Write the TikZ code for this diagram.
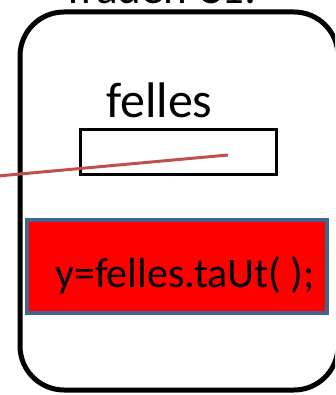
\documentclass[tikz,border=0pt]{standalone}
\usepackage{fontspec}
\setmainfont{Carlito}
\definecolor{linered}{HTML}{C0504D}
\definecolor{boxblue}{HTML}{41658F}
\begin{document}
\begin{tikzpicture}[x=1pt,y=-1pt,
  txt/.style={inner sep=0pt,anchor=base west,text=black},
  frame/.style={draw=black,line width=5pt,rounded corners=44pt},
  smallbox/.style={draw=black,line width=3pt},
  redbox/.style={draw=boxblue,fill=red,line width=3.5pt},
  link/.style={draw=linered,line width=3pt}]
\useasboundingbox (0,0) rectangle (335,395);
\begin{scope}
\clip (0,0) rectangle (335,395);
\node[txt,font=\fontsize{45}{50}\selectfont] (title) at (62,4) {Tråden C1:};
\draw[frame] (20,12) rectangle (338,390);
\node[txt,font=\fontsize{50}{56}\selectfont] (fel) at (106,118) {felles};
\node[smallbox,minimum width=196pt,minimum height=44pt,inner sep=0pt] (box) at (178,152) {};
\node[redbox,minimum width=300pt,minimum height=93pt,inner sep=0pt] (red) at (177,266.5) {};
\node[txt,font=\fontsize{42}{48}\selectfont] (code) at (55,287) {y=felles.taUt( );};
\coordinate (tip) at (228,155);
\coordinate (out) at (-2,176);
\draw[link] (out) -- (tip);
\end{scope}
\end{tikzpicture}
\end{document}
